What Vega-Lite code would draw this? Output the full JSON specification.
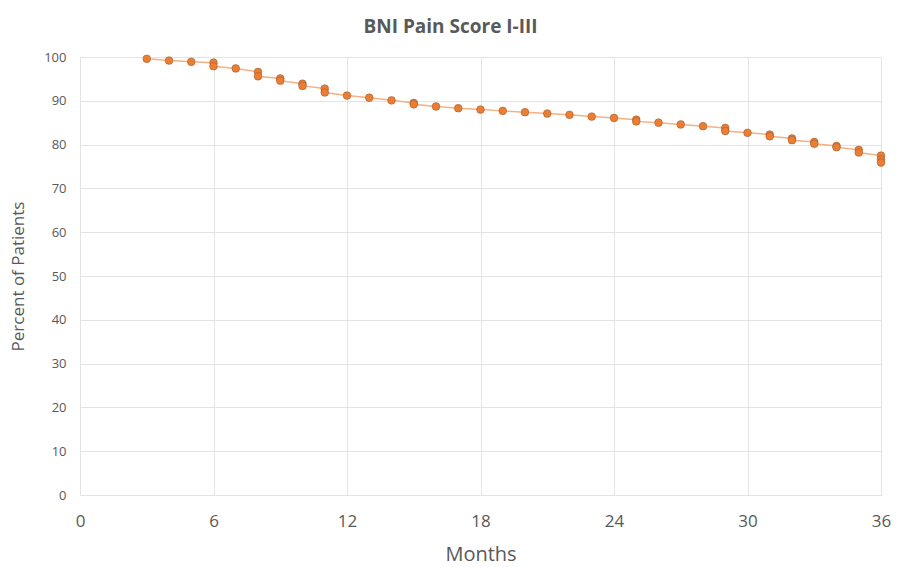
{
  "$schema": "https://vega.github.io/schema/vega-lite/v6.json",
  "width": 801,
  "height": 438,
  "autosize": {"type": "none"},
  "padding": {"left": 80, "top": 57, "right": 20, "bottom": 72},
  "background": "white",
  "config": {"view": {"stroke": null}, "font": "Open Sans"},
  "title": {"text": "BNI Pain Score I-III", "fontSize": 19, "fontWeight": "bold", "color": "#595959", "anchor": "middle", "dx": -30, "offset": 14, "font": "Open Sans"},
  "data": {"values": [
    {"month": 3, "pct": 99.6},
    {"month": 4, "pct": 99.2},
    {"month": 5, "pct": 98.9},
    {"month": 6, "pct": 98.7},
    {"month": 6, "pct": 97.9},
    {"month": 7, "pct": 97.4},
    {"month": 8, "pct": 96.6},
    {"month": 8, "pct": 95.6},
    {"month": 9, "pct": 95.1},
    {"month": 9, "pct": 94.6},
    {"month": 10, "pct": 93.9},
    {"month": 10, "pct": 93.4},
    {"month": 11, "pct": 92.8},
    {"month": 11, "pct": 91.9},
    {"month": 12, "pct": 91.2},
    {"month": 13, "pct": 90.7},
    {"month": 14, "pct": 90.1},
    {"month": 15, "pct": 89.5},
    {"month": 15, "pct": 89.2},
    {"month": 16, "pct": 88.7},
    {"month": 17, "pct": 88.3},
    {"month": 18, "pct": 88.0},
    {"month": 19, "pct": 87.7},
    {"month": 20, "pct": 87.4},
    {"month": 21, "pct": 87.1},
    {"month": 22, "pct": 86.8},
    {"month": 23, "pct": 86.4},
    {"month": 24, "pct": 86.1},
    {"month": 25, "pct": 85.7},
    {"month": 25, "pct": 85.3},
    {"month": 26, "pct": 85.0},
    {"month": 27, "pct": 84.6},
    {"month": 28, "pct": 84.2},
    {"month": 29, "pct": 83.8},
    {"month": 29, "pct": 83.1},
    {"month": 30, "pct": 82.7},
    {"month": 31, "pct": 82.3},
    {"month": 31, "pct": 81.9},
    {"month": 32, "pct": 81.4},
    {"month": 32, "pct": 81.0},
    {"month": 33, "pct": 80.6},
    {"month": 33, "pct": 80.2},
    {"month": 34, "pct": 79.7},
    {"month": 34, "pct": 79.4},
    {"month": 35, "pct": 78.8},
    {"month": 35, "pct": 78.2},
    {"month": 36, "pct": 77.5},
    {"month": 36, "pct": 76.6},
    {"month": 36, "pct": 75.9}
  ]},
  "encoding": {
    "x": {"field": "month", "type": "quantitative",
      "scale": {"domain": [0, 36], "nice": false},
      "axis": {"values": [0, 6, 12, 18, 24, 30, 36], "title": "Months", "titleFontSize": 20, "titleFontWeight": "normal", "titleColor": "#595959", "titlePadding": 15,
        "labelFontSize": 17, "labelColor": "#595959", "labelPadding": 18, "labelFlush": false, "ticks": false, "domain": false, "gridColor": "#E3E3E3", "gridWidth": 1}},
    "y": {"field": "pct", "type": "quantitative",
      "scale": {"domain": [0, 100], "nice": false, "zero": true},
      "axis": {"values": [0, 10, 20, 30, 40, 50, 60, 70, 80, 90, 100], "title": "Percent of Patients", "titleFontSize": 17, "titleFontWeight": "normal", "titleColor": "#595959", "titlePadding": 16,
        "labelFontSize": 13, "labelColor": "#595959", "labelPadding": 14, "labelFlush": false, "ticks": false, "domain": false, "gridColor": "#E3E3E3", "gridWidth": 1}}
  },
  "layer": [
    {"mark": {"type": "line", "color": "#F4B183", "strokeWidth": 1.5}},
    {"mark": {"type": "point", "filled": true, "size": 60, "color": "#ED7D31", "stroke": "#8a5a3a", "strokeWidth": 0.5, "opacity": 1}}
  ]
}
